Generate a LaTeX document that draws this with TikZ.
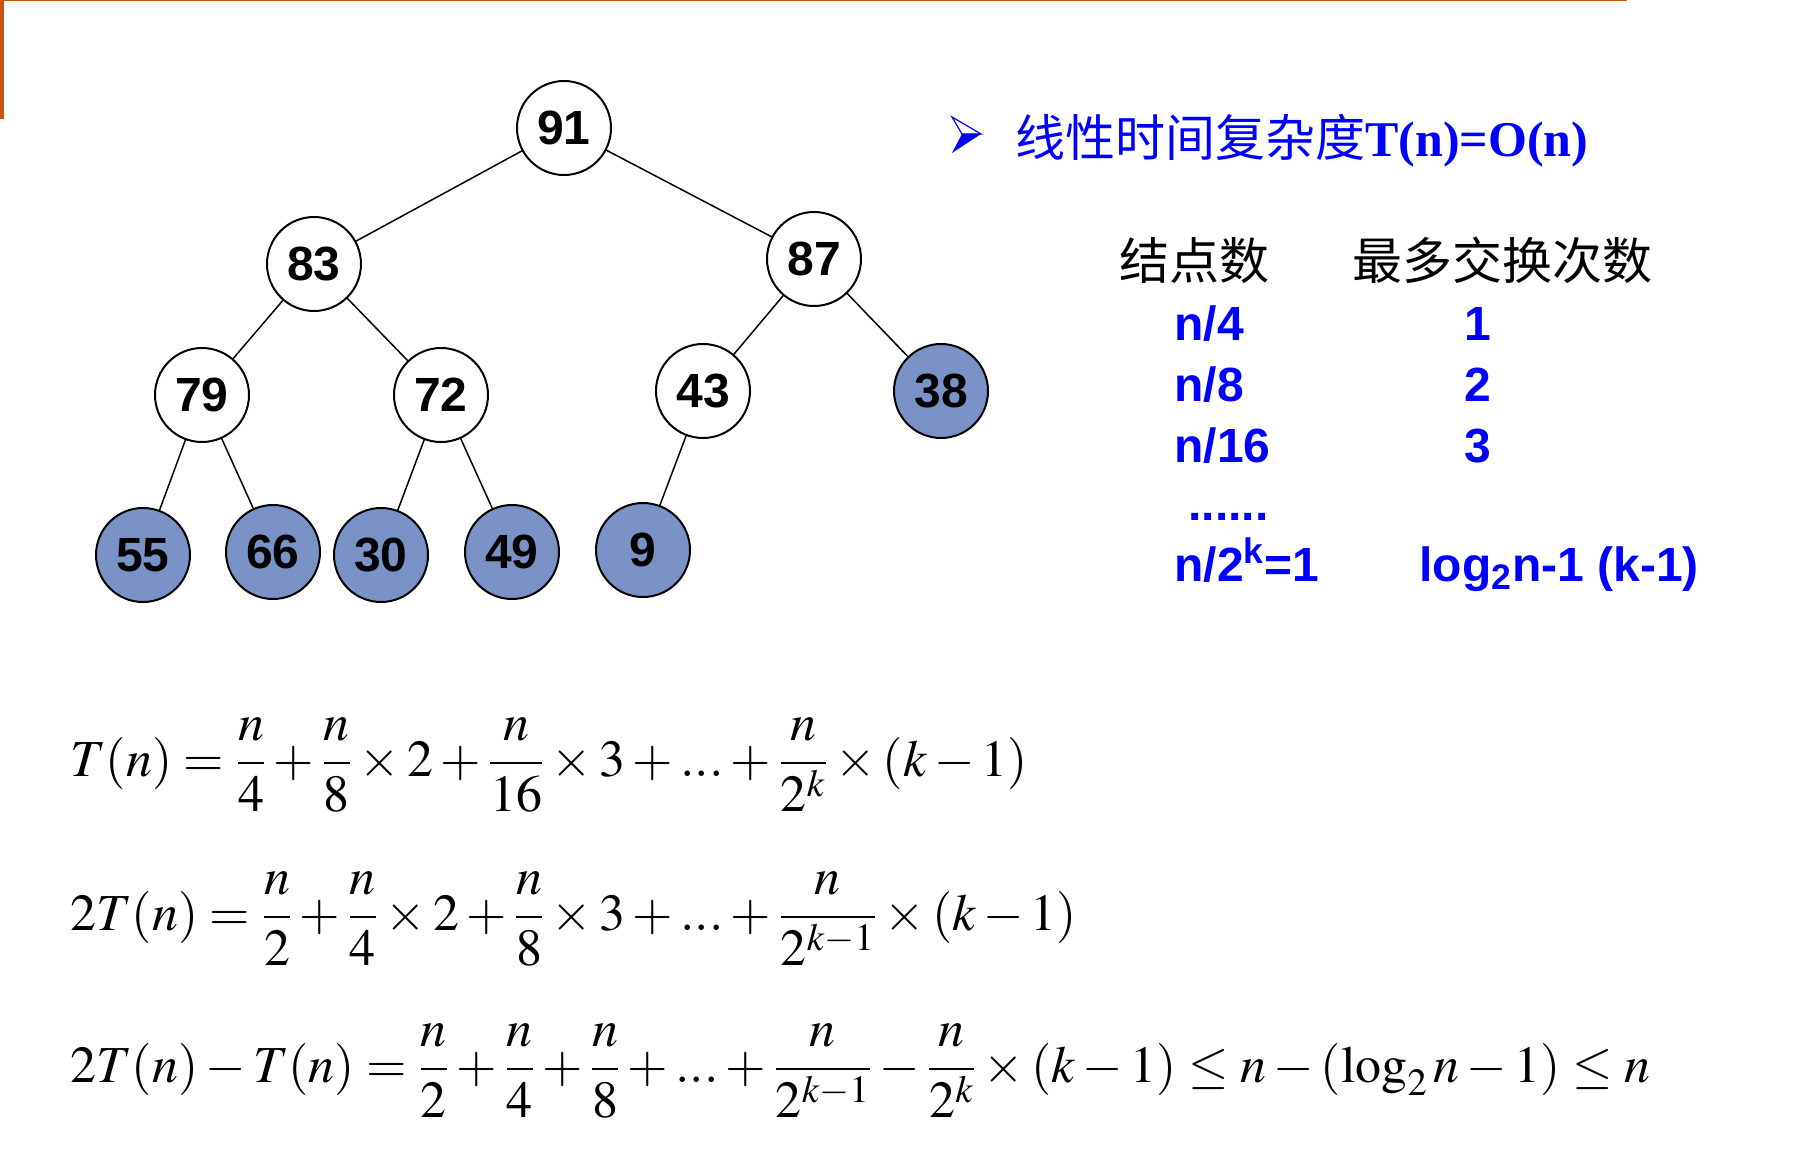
\documentclass[tikz,border=0pt]{standalone}
\usepackage{mathptmx}
\usepackage{fontspec}
\newfontfamily\sansfam{Liberation Sans}
\newfontfamily\timesfam{Liberation Serif}
\newfontfamily\cjk{Noto Sans CJK SC}
\usepackage{tikz}
\usetikzlibrary{arrows}
\usepackage{tkz-graph}
\definecolor{leafblue}{RGB}{122,146,198}
\definecolor{slideorange}{RGB}{200,85,15}
\tikzset{
	rowtext/.style={anchor=base west, inner sep=0pt, text=blue, font=\sansfam\bfseries\fontsize{24}{24}\selectfont},
	headtext/.style={anchor=base west, inner sep=0pt, font=\cjk\fontsize{25}{25}\selectfont},
	formula/.style={anchor=base west, inner sep=0pt, font=\fontsize{26}{30}\selectfont}
}

\begin{document}
\begin{tikzpicture}[x=0.5pt,y=-0.5pt]
		\useasboundingbox (0,0) rectangle (1804,1156);
		\draw[slideorange, line width=0.6pt] (0,0.6) -- (1627,0.6);
		\fill[slideorange] (0,0) rectangle (4,119);
		\GraphInit[vstyle=Normal]
		\tikzset{VertexStyle/.style={draw, circle, fill=white, line width=1pt, minimum size=47pt, inner sep=0pt, font=\sansfam\bfseries\fontsize{24}{24}\selectfont}}
		\tikzset{EdgeStyle/.style={draw, line width=0.75pt}}
		\Vertex[x=564,y=128]{91}
		\Vertex[x=314,y=264]{83}
		\Vertex[x=814,y=259]{87}
		\Vertex[x=202,y=395]{79}
		\Vertex[x=441,y=395]{72}
		\Vertex[x=703,y=391]{43}
		\tikzset{VertexStyle/.append style={fill=leafblue}}
		\Vertex[x=941,y=391]{38}
		\Vertex[x=143,y=555]{55}
		\Vertex[x=273,y=552]{66}
		\Vertex[x=381,y=555]{30}
		\Vertex[x=512,y=552]{49}
		\Vertex[x=643,y=550]{9}
		\Edges(83,91,87)
		\Edges(79,83,72)
		\Edges(43,87,38)
		\Edges(55,79,66)
		\Edges(30,72,49)
		\Edges(43,9)
		\draw[blue, line width=0.6pt, fill=white] (952,117) -- (981,134) -- (962,134) -- cycle;
		\fill[blue] (962,134) -- (981,134) -- (952,153) -- cycle;
		\node[anchor=base west, inner sep=0pt, text=blue] (title) at (1015,156)
			{\cjk\fontsize{25}{25}\selectfont 线性时间复杂度\timesfam\bfseries T(n)=O(n)};
		\node[headtext] (nodecount) at (1119,279) {结点数};
		\node[headtext] (swapcount) at (1352,279) {最多交换次数};
		\node[rowtext] (rowa) at (1174,340) {n/4};
		\node[rowtext] (rowb) at (1174,401) {n/8};
		\node[rowtext] (rowc) at (1174,462) {n/16};
		\node[rowtext] (rowdots) at (1188,520) {......};
		\node[rowtext] (rowk) at (1174,581) {n/2\textsuperscript{k}=1};
		\node[rowtext, anchor=base] (swapa) at (1478,340) {1};
		\node[rowtext, anchor=base] (swapb) at (1478,401) {2};
		\node[rowtext, anchor=base] (swapc) at (1478,462) {3};
		\node[rowtext] (swapk) at (1419,581) {log\textsubscript{2}n-1 (k-1)};
		\node[formula] (sumone) at (70,776)
			{$\displaystyle T(n)=\frac{n}{4}+\frac{n}{8}\times2+\frac{n}{16}\times3+{...}+\frac{n}{2^k}\times(k-1)$};
		\node[formula] (sumtwo) at (70,930)
			{$\displaystyle 2T(n)=\frac{n}{2}+\frac{n}{4}\times2+\frac{n}{8}\times3+{...}+\frac{n}{2^{k-1}}\times(k-1)$};
		\node[formula] (sumdiff) at (70,1082)
			{$\displaystyle 2T(n)-T(n)=\frac{n}{2}+\frac{n}{4}+\frac{n}{8}+{...}+\frac{n}{2^{k-1}}-\frac{n}{2^k}\times(k-1)\le n-(\log_2 n-1)\le n$};
\end{tikzpicture}
\end{document}
